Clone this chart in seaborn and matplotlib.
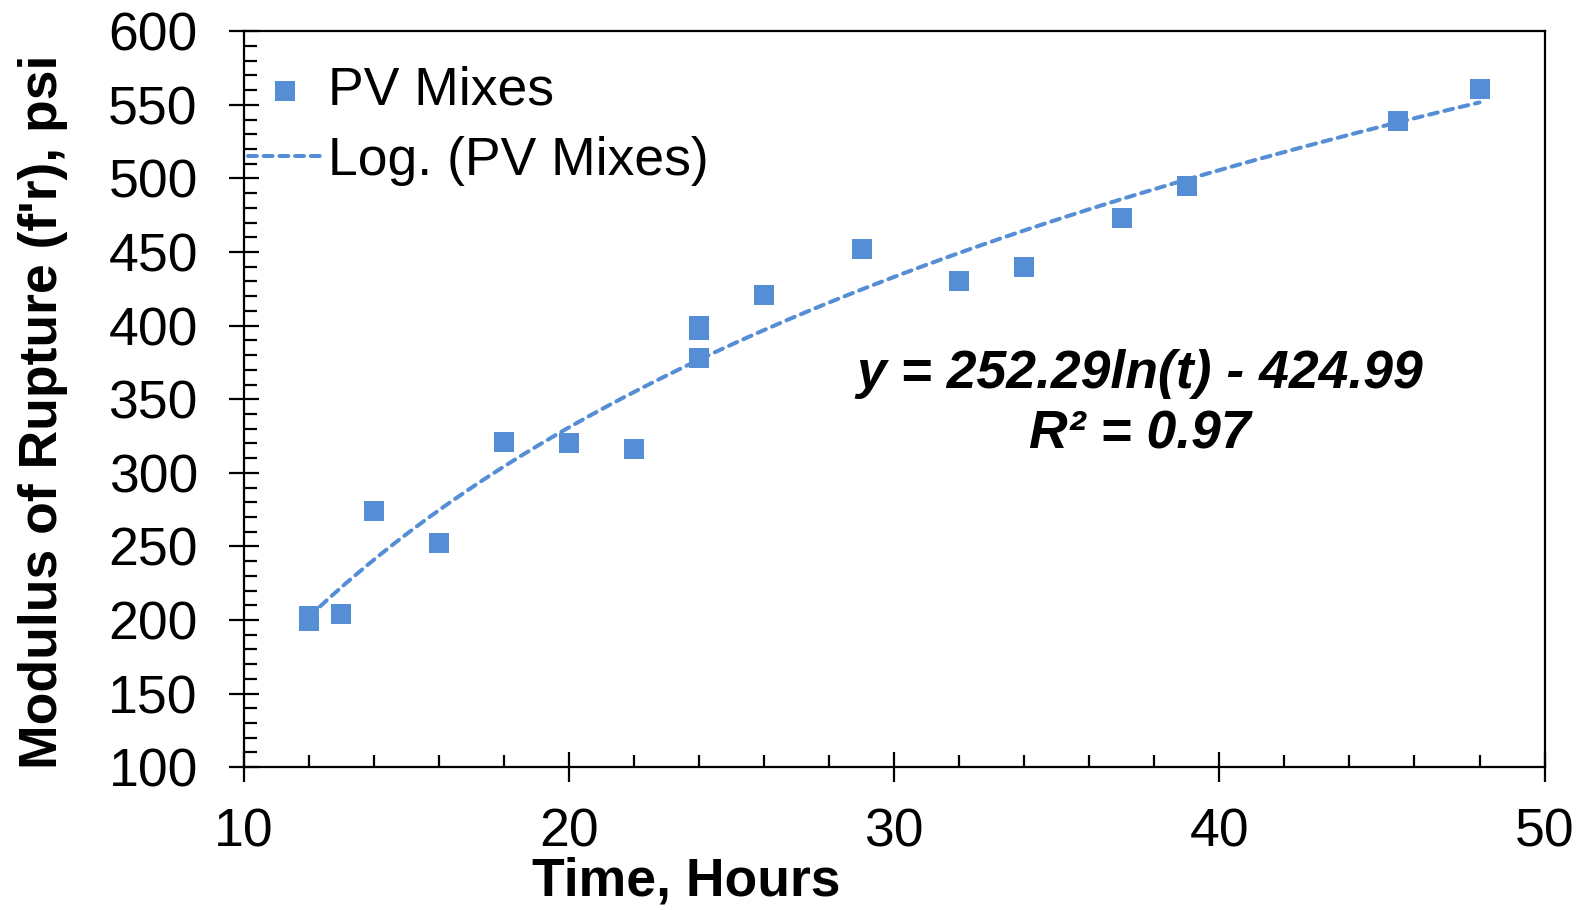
import numpy as np
import pandas as pd
import matplotlib
matplotlib.use("Agg")
import matplotlib.pyplot as plt
import seaborn as sns
from matplotlib.ticker import MultipleLocator

# Data
time_hours = [12, 12, 13, 14, 16, 18, 20, 22, 24, 24, 24, 26, 29, 32, 34, 37, 39, 45.5, 48]
mor_psi = [199, 203, 204, 274, 252, 321, 320, 316, 378, 397, 400, 421, 452, 430, 440, 473, 495, 539, 561]
fit_a = 252.29
fit_b = -424.99
r2 = 0.97

sns.set_style("ticks")
plt.rcParams['font.family'] = ['Liberation Sans', 'DejaVu Sans']
plt.rcParams['text.color'] = 'black'
plt.rcParams['axes.labelcolor'] = 'black'

color = '#558ED5'
FS = 38.5

fig = plt.figure(figsize=(15.85, 9.10), dpi=100)
ax = fig.add_axes([0.1537, 0.157, 0.8208, 0.8086])

df = pd.DataFrame({"t": time_hours, "y": mor_psi})
tt = np.linspace(min(time_hours), max(time_hours), 200)
fit = pd.DataFrame({"t": tt, "y": fit_a * np.log(tt) + fit_b})

sns.lineplot(data=fit, x="t", y="y", ax=ax, color=color, lw=2.9,
             linestyle=(0, (2.2, 1.7)), dash_capstyle='round',
             label="Log. (PV Mixes)", zorder=2)
sns.scatterplot(data=df, x="t", y="y", ax=ax, marker='s', s=190, color=color,
                edgecolor=color, linewidth=0, label="PV Mixes", zorder=3)

ax.set_xlim(10, 50)
ax.set_ylim(100, 600)
ax.xaxis.set_major_locator(MultipleLocator(10))
ax.xaxis.set_minor_locator(MultipleLocator(2))
ax.yaxis.set_major_locator(MultipleLocator(50))
ax.yaxis.set_minor_locator(MultipleLocator(10))

for s in ax.spines.values():
    s.set_color('black')
    s.set_linewidth(1.6)

ax.tick_params(which='major', direction='inout', length=22, width=1.6,
               labelsize=FS, colors='black')
ax.tick_params(which='minor', direction='in', length=9, width=1.6, colors='black')
ax.tick_params(axis='x', which='major', pad=18)
ax.tick_params(axis='y', which='major', pad=22)

ax.set_xlabel("Time, Hours", fontsize=FS, fontweight='bold')
ax.xaxis.set_label_coords(0.34, -0.121)
ax.set_ylabel("Modulus of Rupture (f'r), psi", fontsize=FS, fontweight='bold')
ax.yaxis.set_label_coords(-0.135, 0.483)

h, l = ax.get_legend_handles_labels()
order = [l.index("PV Mixes"), l.index("Log. (PV Mixes)")]
leg = ax.legend([h[i] for i in order], [l[i] for i in order], loc='upper left',
                frameon=False, fontsize=FS, handlelength=1.4, handletextpad=0.1,
                borderaxespad=0.0, borderpad=0.3, labelspacing=0.38,
                bbox_to_anchor=(-0.009, 0.975))

ax.text(37.55, 367, f"y = {fit_a:.2f}ln(t) - {abs(fit_b):.2f}", fontsize=FS,
        fontweight='bold', fontstyle='italic', ha='center', va='center')
ax.text(37.55, 326, f"R² = {r2:.2f}", fontsize=FS,
        fontweight='bold', fontstyle='italic', ha='center', va='center')

fig.savefig("out.png", dpi=100)
